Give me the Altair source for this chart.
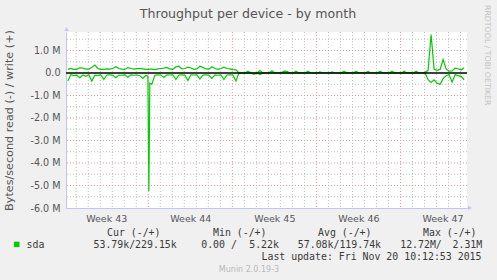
import altair as alt
import pandas as pd

# ---------------- data (values in MB/s) ----------------
# regular samples every 0.25 day, first sample at day 0.3 (day 0 = Mon Oct 19 2015)
sample_start = 0.3
sample_step = 0.25

write_m = [
    0.16, 0.20, 0.16, 0.16,   # day 0
    0.23, 0.22, 0.17, 0.17,   # day 1
    0.25, 0.35, 0.20, 0.16,   # day 2
    0.16, 0.18, 0.17, 0.20,   # day 3
    0.28, 0.20, 0.17, 0.16,   # day 4
    0.24, 0.20, 0.17, 0.19,   # day 5
    0.20, 0.18, 0.16, 0.16,   # day 6
    0.17, 0.15, 0.18, 0.20,   # day 7
    0.22, 0.25, 0.18, 0.16,   # day 8
    0.27, 0.30, 0.18, 0.20,   # day 9
    0.26, 0.22, 0.16, 0.18,   # day 10
    0.30, 0.25, 0.18, 0.17,   # day 11
    0.28, 0.20, 0.16, 0.20,   # day 12
    0.26, 0.20, 0.18, 0.15,   # day 13
    0.14,
    0, 0, 0, 0.08,
    0, 0, 0, 0.11,
    0, 0, 0, 0.10,
    0, 0, 0, 0.08,
    0.07, 0, 0, 0.08,
    0, 0, 0, 0.08,
    0, 0, 0, 0.05,
    0, 0, 0, 0.05,
    0, 0, 0, 0.08,
    0, 0, 0, 0.08,
    0, 0, 0, 0.07,
    0, 0, 0, 0.08,
    0, 0, 0, 0.08,
    0, 0, 0, 0.08,
    0, 0, 0, 0.08,
    0, 0, 0.03,
    0.12, 1.71, 0.16, 0.12, 0.16, 0.60, 0.18, 0.08, 0.09, 0.22, 0.19, 0.13, 0.23,
]

read_m = [
    -0.36, -0.08, -0.12, -0.10,
    -0.21, -0.09, -0.15, -0.08,
    -0.36, -0.10, -0.12, -0.09,
    -0.29, -0.09, -0.08, -0.10,
    -0.21, -0.09, -0.10, -0.08,
    -0.19, -0.08, -0.10, -0.09,
    -0.12, -0.24, -0.10, -5.25,
    -0.50, -0.10, -0.08, -0.09,
    -0.20, -0.08, -0.09, -0.08,
    -0.29, -0.09, -0.08, -0.10,
    -0.33, -0.08, -0.09, -0.08,
    -0.27, -0.09, -0.08, -0.10,
    -0.24, -0.08, -0.10, -0.08,
    -0.29, -0.09, -0.08, -0.09,
    -0.36,
    0, 0, 0, 0,
    0, -0.06, 0, -0.07,
    0, 0, 0, 0,
    0, 0, 0, 0,
    0, 0, 0, 0,
    0, 0, 0, 0,
    0, 0, 0, 0,
    0, 0, 0, 0,
    0, 0, 0, 0,
    0, 0, 0, 0,
    0, 0, 0, 0,
    0, 0, 0, 0,
    0, 0, 0, 0,
    0, 0, 0, 0,
    0, 0, 0, 0,
    0, 0, 0,
    -0.30, -0.42, -0.30, -0.45, -0.50, -0.25, -0.12, -0.08, -0.41, -0.07, -0.12, -0.15, -0.30,
]

# extra samples around the narrow read spike
spike_days = [6.97, 7.13]
spike_write = [0.16, 0.17]
spike_read = [-0.14, -0.45]

week_centers = [3.5, 10.5, 17.5, 24.5, 31.5]
week_names = ["Week 43", "Week 44", "Week 45", "Week 46", "Week 47"]
week_starts = [7, 14, 21, 28]
day_lines = [d for d in range(1, 34) if d % 7 != 0]
y_ticks = [-6, -5, -4, -3, -2, -1, 0, 1]
y_minor = [-5.5, -4.5, -3.5, -2.5, -1.5, -0.5, 0.5, 1.5]
y_major = [-5, -4, -3, -2, -1, 1]

# ---------------- build table ----------------
days = [round(sample_start + sample_step * i, 2) for i in range(len(write_m))]
df = pd.DataFrame({
    "day": days + spike_days,
    "write": write_m + spike_write,
    "read": read_m + spike_read,
}).sort_values("day")
long = df.melt("day", var_name="dir", value_name="v")

XS = alt.Scale(domain=[0.15, 33.54], nice=False, zero=False)
YS = alt.Scale(domain=[-6, 1.822], nice=False, zero=False)

GREY = "#BDBDBD"
RED = "#EA9494"
AXC = "#C4C4F2"
TXT = "#555555"

label_map = "{" + ",".join(f"'{c}':'{n}'" for c, n in zip(week_centers, week_names)) + "}"

XAX = alt.Axis(values=week_centers, labelExpr=f"{label_map}[datum.value]",
               ticks=False, grid=False, domainColor=AXC, labelFontSize=9.5,
               labelColor=TXT, labelFont="DejaVu Sans", labelPadding=5,
               labelFlush=False, labelOverlap=False, title=None)
YAX = alt.Axis(values=y_ticks,
               labelExpr="datum.value == 0 ? '0.0' : (datum.value < 0 ? '-' : '') + format(abs(datum.value), '.1f') + ' M'",
               ticks=False, grid=False, domainColor=AXC, labelFontSize=9.6,
               labelColor=TXT, labelFont="DejaVu Sans", labelPadding=6,
               labelFlush=False, labelOverlap=False, title=None)

vgrid_minor = alt.Chart(pd.DataFrame({"d": day_lines})).mark_rule(
    color=GREY, strokeWidth=1, strokeDash=[1, 2]).encode(x=alt.X("d:Q", scale=XS, axis=XAX))
vgrid_major = alt.Chart(pd.DataFrame({"d": week_starts})).mark_rule(
    color=RED, strokeWidth=1, strokeDash=[1, 2]).encode(x=alt.X("d:Q", scale=XS, axis=XAX))
hgrid_minor = alt.Chart(pd.DataFrame({"m": y_minor})).mark_rule(
    color=GREY, strokeWidth=1, strokeDash=[1, 2]).encode(y=alt.Y("m:Q", scale=YS, axis=YAX))
hgrid_major = alt.Chart(pd.DataFrame({"m": y_major})).mark_rule(
    color=RED, strokeWidth=1, strokeDash=[1, 2]).encode(y=alt.Y("m:Q", scale=YS, axis=YAX))

lines = alt.Chart(long).mark_line(color="#00CC00", strokeWidth=1.2).encode(
    x=alt.X("day:Q", scale=XS, axis=XAX),
    y=alt.Y("v:Q", scale=YS, axis=YAX),
    detail="dir:N",
)

zero = alt.Chart(pd.DataFrame({"z": [0]})).mark_rule(color="black", strokeWidth=1.6).encode(
    y=alt.Y("z:Q", scale=YS, axis=YAX))

L, T = 66, 32


def txt(text, px, py, size, color, font="DejaVu Sans Mono", align="left", angle=0):
    return alt.Chart(pd.DataFrame({"t": [text]})).mark_text(
        align=align, baseline="alphabetic", fontSize=size, font=font, color=color, angle=angle
    ).encode(text="t:N", x=alt.value(px - L), y=alt.value(py - T))


LEG = "#3A3A3A"
texts = [
    txt("Throughput per device - by month", 248, 17.5, 12.6, TXT, font="DejaVu Sans", align="center"),
    txt("Bytes/second read (-) / write (+)", 13, 120.5, 11.2, TXT, font="DejaVu Sans", align="center", angle=270),
    txt("RRDTOOL / TOBI OETIKER", 485, 5, 7.8, "#C2C2C2", font="DejaVu Sans", align="left", angle=90),
    txt("Cur (-/+)", 107, 236, 9.9, LEG),
    txt("Min (-/+)", 213, 236, 9.9, LEG),
    txt("Avg (-/+)", 318, 236, 9.9, LEG),
    txt("Max (-/+)", 423, 236, 9.9, LEG),
    txt("sda", 26.5, 247.5, 9.9, LEG),
    txt("53.79k/229.15k", 93.5, 247.5, 9.9, LEG),
    txt("0.00 /", 201.2, 247.5, 9.9, LEG),
    txt("5.22k", 249.2, 247.5, 9.9, LEG),
    txt("57.08k/119.74k", 297.8, 247.5, 9.9, LEG),
    txt("12.72M/", 400.2, 247.5, 9.9, LEG),
    txt("2.31M", 452.5, 247.5, 9.9, LEG),
    txt("Last update: Fri Nov 20 10:12:53 2015", 261.5, 259.5, 9.9, LEG),
    txt("Munin 2.0.19-3", 249, 271.8, 8, "#B8B8B8", font="DejaVu Sans", align="center"),
]

swatch = alt.Chart(pd.DataFrame({"s": ["sda"]})).mark_square(
    color="#00CC00", size=30, opacity=1).encode(x=alt.value(16.7 - L), y=alt.value(244.4 - T))

arrow_up = alt.Chart(pd.DataFrame({"a": [1]})).mark_point(
    shape="triangle-up", filled=True, color=AXC, size=22, opacity=1).encode(
    x=alt.value(0.5), y=alt.value(-3))
arrow_right = alt.Chart(pd.DataFrame({"a": [1]})).mark_point(
    shape="triangle-right", filled=True, color=AXC, size=22, opacity=1).encode(
    x=alt.value(404), y=alt.value(176))

chart = alt.layer(
    vgrid_minor, vgrid_major, hgrid_minor, hgrid_major, lines, zero,
    arrow_up, arrow_right, swatch, *texts
).properties(
    width=401, height=176,
    padding={"left": 66, "top": 32, "right": 30, "bottom": 72},
    autosize="none",
    background="#F0F0F0",
).configure_view(fill="white", stroke=None)

chart.save("out.html", embed_options={"renderer": "svg", "actions": False})
